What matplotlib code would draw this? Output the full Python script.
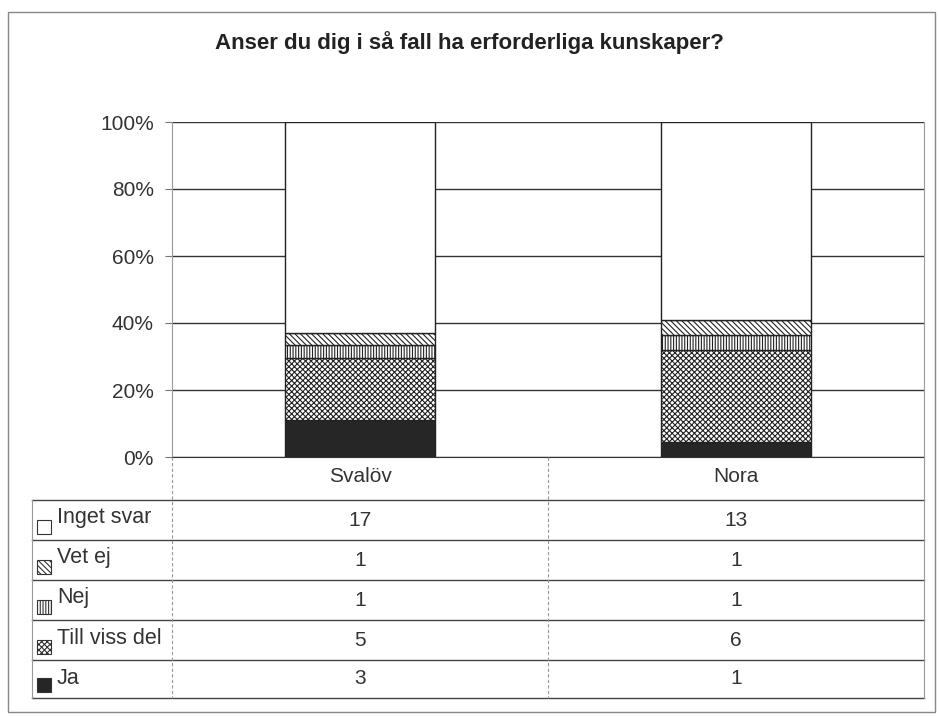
import matplotlib
matplotlib.use("Agg")
import matplotlib.pyplot as plt
from matplotlib.patches import Rectangle
import numpy as np

plt.rcParams['font.family'] = ['Liberation Sans', 'DejaVu Sans']
plt.rcParams['hatch.linewidth'] = 0.8

title = "Anser du dig i så fall ha erforderliga kunskaper?"
places = ["Svalöv", "Nora"]
# stacking order bottom -> top
series = ["Ja", "Till viss del", "Nej", "Vet ej", "Inget svar"]
ja = [3, 1]
till_viss_del = [5, 6]
nej = [1, 1]
vet_ej = [1, 1]
inget_svar = [17, 13]
yticks = [0, 20, 40, 60, 80, 100]
ytick_labels = ["0%", "20%", "40%", "60%", "80%", "100%"]

counts = np.array([ja, till_viss_del, nej, vet_ej, inget_svar], dtype=float)
shares = counts / counts.sum(axis=0) * 100

styles = {
    "Ja": dict(facecolor="#262626", hatch=None),
    "Till viss del": dict(facecolor="white", hatch="xxxxxx"),
    "Nej": dict(facecolor="white", hatch="||||||"),
    "Vet ej": dict(facecolor="white", hatch="\\\\\\\\\\\\"),
    "Inget svar": dict(facecolor="white", hatch=None),
}

W, H = 939, 718
fig = plt.figure(figsize=(W / 100, H / 100), dpi=100)

def fx(px):
    return px / W

def fy(py):
    return 1 - py / H

# outer frame
frame = Rectangle((fx(8), fy(712)), fx(935) - fx(8), fy(12) - fy(712),
                  transform=fig.transFigure, fill=False, edgecolor="#888888", lw=1.0)
fig.patches.append(frame)

fig.text(fx(469), fy(43), title, ha="center", va="center", fontsize=16,
         fontweight="bold", color="#222222")

# main chart axes
L, R, T, B = 172, 924, 122, 457
ax = fig.add_axes([fx(L), fy(B), fx(R) - fx(L), fy(T) - fy(B)])
ax.set_xlim(-0.5, len(places) - 0.5)
ax.set_ylim(0, 100)
x = np.arange(len(places))
ax.set_axisbelow(True)
ax.yaxis.grid(True, color="#333333", lw=1.0)
bottom = np.zeros(len(places))
for i, s in enumerate(series):
    st = styles[s]
    ax.bar(x, shares[i], 0.4, bottom=bottom, facecolor=st["facecolor"],
           hatch=st["hatch"], edgecolor="#222222", linewidth=1.0, zorder=3)
    bottom += shares[i]
ax.set_yticks(yticks)
ax.set_yticklabels(ytick_labels, fontsize=15, color="#333333")
ax.tick_params(axis="y", length=5, width=0.8, color="#777777", pad=8)
ax.set_xticks([])
for sp in ["left", "right"]:
    ax.spines[sp].set_color("#999999")
    ax.spines[sp].set_linewidth(0.8)
ax.spines["top"].set_visible(False)
ax.spines["bottom"].set_color("#333333")

# data table below
tb_top, tb_bot, tb_left = 457, 698, 32
tax = fig.add_axes([fx(tb_left), fy(tb_bot), fx(R) - fx(tb_left), fy(tb_top) - fy(tb_bot)])
tax.set_xlim(tb_left, R)
tax.set_ylim(tb_bot, tb_top)
tax.axis("off")
row_lines = [500, 540, 580, 620, 660, 698]
for yl in row_lines:
    tax.plot([tb_left, R], [yl, yl], color="#444444", lw=1.0, clip_on=False)
tax.plot([tb_left, tb_left], [500, 698], color="#999999", lw=0.8, clip_on=False)
tax.plot([R, R], [tb_top, 698], color="#999999", lw=0.8, clip_on=False)
tax.plot([L, L], [tb_top, 698], color="#999999", lw=0.8, ls=(0, (3, 2)), clip_on=False)
col_mid = (L + R) / 2
tax.plot([col_mid, col_mid], [tb_top, 698], color="#999999", lw=0.8, ls=(0, (3, 2)), clip_on=False)
col_centers = [(L + col_mid) / 2, (col_mid + R) / 2]
for cx, name in zip(col_centers, places):
    tax.text(cx, 476, name, ha="center", va="center", fontsize=15, color="#333333")
table_order = list(reversed(series))
for r, s in enumerate(table_order):
    y0, y1 = row_lines[r], row_lines[r + 1]
    st = styles[s]
    tax.add_patch(Rectangle((37, y1 - 6), 14, -14, facecolor=st["facecolor"],
                            hatch=st["hatch"], edgecolor="#333333", lw=0.8, clip_on=False))
    tax.text(57, y0 + 18, s, ha="left", va="center", fontsize=15.5, color="#333333")
    idx = series.index(s)
    for c, cx in enumerate(col_centers):
        tax.text(cx, (y0 + y1) / 2, str(int(counts[idx, c])), ha="center", va="center",
                 fontsize=15, color="#333333")

fig.savefig("out.png", dpi=100)
